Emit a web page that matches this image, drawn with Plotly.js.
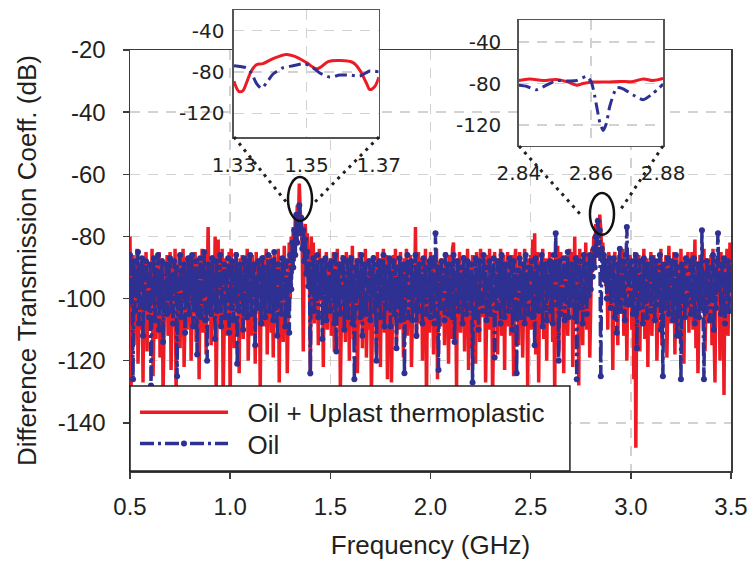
<!DOCTYPE html>
<html><head><meta charset="utf-8">
<script src="https://cdn.plot.ly/plotly-3.0.1.min.js"></script>
<style>html,body{margin:0;padding:0;background:#fff}#chart{width:751px;height:568px}</style>
</head><body><div id="chart"></div>
<script>
// ---- data ----
const freqStart = 0.5;    // GHz
const freqStep = 0.005;   // GHz

const seriesNames = ['Oil + Uplast thermoplastic', 'Oil'];

const redMain = [
 -80,-132,-94,-86,-115,-90,-104,-84,-121,-96,-88,-110,-92,-127,-87,-100,-85,-117,-93,-106,
 -89,-108,-84,-125,-97,-88,-113,-91,-102,-85,-119,-94,-87,-131,-99,-90,-106,-86,-112,-93,
 -85,-123,-96,-88,-109,-84,-131,-92,-100,-86,-116,-90,-104,-84,-122,-95,-87,-110,-91,-99,
 -86,-120,-93,-88,-105,-85,-114,-97,-87,-126,-90,-101,-84,-111,-92,-86,-118,-94,-77,-103,
 -88,-115,-92,-86,-107,-80,-129,-94,-81,-109,-89,-99,-84,-132,-93,-87,-112,-90,-102,-85,
 -135,-84,-97,-89,-116,-92,-85,-104,-91,-124,-87,-100,-86,-113,-94,-88,-107,-84,-120,-95,
 -88,-112,-86,-99,-91,-121,-85,-104,-93,-87,-130,-90,-101,-86,-109,-94,-84,-118,-92,-98,
 -86,-111,-90,-119,-85,-97,-88,-108,-84,-127,-92,-101,-87,-114,-83,-99,-91,-124,-88,-82,
 -100,-80,-92,-77,-88,-74,-82,-70,-78,-63,-72,-76,-84,-117,-80,-76,-86,-79,-95,-84,
 -125,-80,-96,-82,-108,-86,-97,-88,-115,-84,-101,-93,-87,-122,-90,-99,-85,-110,-92,-104,
 -87,-112,-94,-85,-117,-91,-103,-84,-109,-88,-129,-93,-86,-106,-90,-114,-85,-100,-92,-120,
 -86,-105,-83,-113,-91,-99,-87,-124,-93,-85,-108,-90,-116,-88,-102,-84,-119,-95,-87,-110,
 -89,-131,-92,-86,-104,-90,-118,-85,-100,-93,-122,-87,-96,-84,-111,-91,-86,-126,-94,-101,
 -88,-127,-91,-86,-107,-84,-115,-96,-89,-110,-85,-102,-92,-119,-87,-99,-84,-112,-90,-105,
 -86,-122,-93,-88,-104,-77,-113,-90,-85,-108,-94,-87,-120,-91,-100,-84,-134,-92,-88,-111,
 -85,-107,-91,-118,-86,-99,-84,-126,-92,-88,-109,-87,-103,-90,-115,-85,-100,-93,-121,-86,
 -89,-113,-84,-82,-106,-92,-129,-87,-100,-85,-111,-90,-98,-86,-117,-91,-104,-84,-123,-88,
 -116,-90,-86,-108,-93,-121,-85,-99,-88,-114,-84,-106,-91,-100,-87,-127,-92,-86,-110,-84,
 -107,-89,-132,-92,-85,-104,-90,-118,-87,-98,-84,-112,-93,-86,-123,-90,-101,-85,-109,-88,
 -112,-86,-96,-125,-89,-84,-107,-92,-115,-85,-100,-88,-119,-91,-84,-105,-93,-128,-87,-99,
 -86,-110,-81,-104,-79,-118,-90,-85,-127,-92,-88,-106,-84,-113,-93,-87,-120,-89,-97,-85,
 -108,-87,-114,-92,-131,-86,-101,-83,-117,-90,-85,-106,-94,-124,-88,-99,-86,-112,-91,-84,
 -101,-85,-122,-89,-80,-108,-92,-86,-128,-84,-97,-90,-115,-87,-104,-82,-110,-93,-86,-119,
 -98,-84,-91,-80,-88,-76,-84,-74,-80,-73,-78,-85,-82,-90,-86,-96,-88,-110,-85,-92,
 -103,-87,-123,-90,-85,-99,-92,-115,-86,-104,-89,-96,-84,-112,-91,-87,-120,-93,-100,-86,
 -88,-110,-94,-126,-85,-148,-90,-101,-86,-117,-92,-89,-107,-84,-113,-93,-87,-122,-90,-98,
 -85,-112,-91,-86,-104,-88,-120,-94,-87,-100,-84,-115,-92,-89,-108,-86,-119,-90,-83,-101,
 -108,-88,-96,-85,-118,-91,-86,-102,-93,-113,-84,-99,-90,-121,-87,-105,-92,-85,-111,-89,
 -97,-85,-110,-90,-81,-116,-88,-124,-92,-86,-104,-89,-99,-84,-117,-93,-87,-108,-91,-100,
 -86,-115,-84,-109,-127,-90,-93,-100,-87,-120,-85,-104,-92,-131,-88,-96,-84,-112,-90,-82,
 -98
];

const blueMain = [
 -86,-101,-90,-126,-88,-104,-92,-99,-85,-108,-91,-97,-87,-112,-90,-103,-88,-100,-93,-106,
 -89,-128,-94,-101,-87,-107,-91,-98,-86,-110,-92,-102,-88,-114,-95,-100,-89,-105,-91,-99,
 -87,-104,-93,-108,-88,-100,-90,-125,-94,-103,-86,-106,-91,-99,-89,-111,-93,-102,-87,-105,
 -90,-98,-86,-109,-92,-103,-88,-118,-95,-101,-87,-106,-90,-99,-85,-107,-92,-120,-89,-102,
 -91,-105,-87,-100,-93,-113,-88,-104,-90,-98,-86,-109,-92,-101,-89,-106,-94,-100,-87,-111,
 -90,-103,-88,-107,-92,-99,-86,-121,-91,-104,-89,-100,-93,-110,-87,-102,-90,-106,-88,-98,
 -86,-105,-92,-101,-89,-115,-94,-103,-88,-99,-91,-108,-87,-102,-90,-106,-93,-100,-86,-104,
 -91,-98,-88,-107,-85,-103,-92,-112,-89,-100,-93,-105,-87,-99,-90,-109,-88,-102,-94,-111,
 -86,-97,-82,-90,-78,-86,-73,-82,-76,-70,-79,-74,-84,-78,-88,-81,-92,-85,-96,-89,
 -124,-92,-98,-87,-104,-90,-100,-86,-106,-93,-99,-88,-113,-91,-102,-87,-107,-94,-100,-89,
 -104,-88,-99,-92,-108,-86,-117,-93,-101,-89,-105,-90,-98,-87,-110,-94,-102,-88,-106,-91,
 -100,-87,-108,-93,-126,-90,-103,-88,-99,-92,-106,-86,-112,-91,-101,-89,-105,-94,-100,-88,
 -107,-91,-99,-87,-104,-93,-120,-89,-102,-88,-106,-92,-100,-86,-109,-90,-103,-95,-99,-87,
 -109,-92,-101,-88,-105,-90,-116,-94,-100,-87,-107,-91,-103,-89,-124,-93,-99,-86,-106,-90,
 -102,-88,-107,-92,-99,-86,-112,-91,-104,-89,-100,-93,-108,-87,-101,-90,-105,-94,-99,-88,
 -106,-87,-101,-93,-108,-79,-100,-90,-123,-92,-103,-88,-99,-91,-107,-86,-102,-89,-105,-94,
 -100,-89,-106,-86,-114,-92,-101,-88,-104,-90,-99,-93,-108,-87,-102,-91,-105,-88,-100,-92,
 -103,-89,-127,-93,-100,-87,-106,-91,-110,-88,-101,-92,-104,-86,-99,-90,-107,-94,-102,-88,
 -105,-91,-100,-87,-119,-93,-103,-88,-99,-90,-108,-86,-102,-92,-106,-89,-100,-94,-104,-87,
 -101,-90,-110,-88,-104,-93,-124,-91,-99,-87,-106,-92,-102,-89,-108,-86,-100,-93,-105,-90,
 -99,-88,-106,-92,-115,-87,-101,-90,-104,-94,-100,-86,-109,-91,-103,-89,-107,-93,-99,-88,
 -104,-90,-108,-86,-99,-79,-102,-91,-120,-88,-105,-93,-100,-87,-107,-90,-101,-85,-106,-92,
 -102,-89,-99,-93,-106,-87,-126,-90,-103,-88,-100,-92,-108,-86,-101,-91,-105,-89,-99,-86,
 -97,-88,-93,-84,-90,-80,-86,-75,-82,-78,-125,-84,-90,-86,-94,-88,-100,-91,-97,-87,
 -103,-90,-99,-87,-106,-93,-111,-89,-101,-84,-104,-91,-99,-88,-107,-86,-77,-92,-102,-89,
 -100,-88,-105,-92,-99,-86,-116,-91,-103,-88,-100,-93,-108,-87,-101,-90,-106,-89,-99,-92,
 -104,-87,-100,-91,-107,-88,-102,-93,-99,-86,-110,-90,-125,-89,-103,-92,-100,-87,-105,-91,
 -99,-88,-107,-92,-101,-86,-112,-90,-104,-93,-126,-89,-100,-91,-106,-87,-102,-94,-99,-88,
 -105,-90,-101,-87,-108,-93,-100,-89,-106,-91,-103,-78,-99,-126,-92,-104,-88,-101,-90,-107,
 -93,-100,-86,-110,-91,-103,-88,-79,-97,-92,-105,-89,-101,-87,-108,-93,-100,-88,-104,-90,
 -96
];

// zoomed insets
const inset1RedFreq = [1.3300,1.3314,1.3325,1.3334,1.3348,1.3362,1.3380,1.3408,1.3445,1.3468,1.3500,1.3528,1.3541,1.3560,1.3592,1.3629,1.3647,1.3666,1.3675,1.3689,1.3700];
const inset1Red     = [-89,-99,-98,-91,-79,-73,-72,-67,-63,-65,-71,-77,-75,-70,-69,-71,-78,-91,-97,-94,-85];
const inset1BlueFreq = [1.3300,1.3334,1.3348,1.3362,1.3376,1.3389,1.3408,1.3435,1.3463,1.3495,1.3518,1.3537,1.3565,1.3592,1.3620,1.3647,1.3675,1.3700];
const inset1Blue     = [-74,-76,-81,-91,-96,-91,-82,-76,-74,-72,-76,-81,-85,-83,-83,-84,-79,-80];

const inset2RedFreq = [2.8400,2.8430,2.8467,2.8504,2.8532,2.8560,2.8578,2.8606,2.8643,2.8680,2.8717,2.8745,2.8772,2.8800];
const inset2Red     = [-77,-75.5,-77,-76,-78,-81.5,-80,-78.5,-78.5,-78,-78,-75.5,-77,-75];
const inset2BlueFreq = [2.8400,2.8421,2.8449,2.8477,2.8504,2.8532,2.8560,2.8588,2.8601,2.8611,2.8625,2.8634,2.8643,2.8652,2.8671,2.8689,2.8717,2.8745,2.8772,2.8800];
const inset2Blue     = [-81.5,-82.5,-86,-81.5,-77,-77.5,-77,-73,-78.5,-93,-118,-125,-118,-102,-84,-85,-91,-95.5,-89.5,-80.5];

const xTicks = [0.5,1.0,1.5,2.0,2.5,3.0,3.5];
const yTicks = [-20,-40,-60,-80,-100,-120,-140];
const inset1XTicks = [1.33,1.35,1.37];
const inset2XTicks = [2.84,2.86,2.88];
const insetYTicks = [-40,-80,-120];

// ---- styling ----
const RED = '#ed1c24', BLUE = '#2e3192', INK = '#231f20', GRID = '#d2d2d2', AXIS = '#3c3c3c';
const FONT = 'Liberation Sans, Arial, sans-serif';
const INSETFONT = 'DejaVu Sans, sans-serif';
const NB = '\u00a0\u00a0';

const freq = redMain.map((_, i) => +(freqStart + i * freqStep).toFixed(4));
const hyphen = v => String(v); // ASCII hyphen-minus as in the reference

const traces = [
  {x: freq, y: redMain, name: NB + seriesNames[0], type: 'scatter', mode: 'lines',
   line: {color: RED, width: 3.5}, xaxis: 'x', yaxis: 'y', legend: 'legend'},
  {x: freq, y: blueMain, name: NB + seriesNames[1], type: 'scatter', mode: 'lines+markers',
   line: {color: BLUE, width: 3.5, dash: '14px,4px,3px,4px'}, marker: {color: BLUE, size: 6},
   xaxis: 'x', yaxis: 'y', legend: 'legend2'},
  {x: inset1RedFreq, y: inset1Red, type: 'scatter', mode: 'lines', showlegend: false,
   line: {color: RED, width: 3, shape: 'spline', smoothing: 1}, xaxis: 'x2', yaxis: 'y2'},
  {x: inset1BlueFreq, y: inset1Blue, type: 'scatter', mode: 'lines', showlegend: false,
   line: {color: BLUE, width: 3, dash: '12px,5px,3px,5px', shape: 'spline', smoothing: 0.6}, xaxis: 'x2', yaxis: 'y2'},
  {x: inset2RedFreq, y: inset2Red, type: 'scatter', mode: 'lines', showlegend: false,
   line: {color: RED, width: 3, shape: 'spline', smoothing: 1}, xaxis: 'x3', yaxis: 'y3'},
  {x: inset2BlueFreq, y: inset2Blue, type: 'scatter', mode: 'lines', showlegend: false,
   line: {color: BLUE, width: 3, dash: '12px,5px,3px,5px', shape: 'spline', smoothing: 0.5}, xaxis: 'x3', yaxis: 'y3'}
];

const mainAxis = {
  ticks: 'outside', ticklen: 6, tickwidth: 1.5, tickcolor: AXIS,
  showline: true, mirror: true, linecolor: AXIS, linewidth: 1.5,
  showgrid: true, gridcolor: GRID, gridwidth: 1.5, griddash: '10px,8px',
  zeroline: false, tickfont: {family: FONT, size: 24, color: INK}
};
const insetAxis = {
  ticks: '', showline: true, mirror: true, linecolor: '#555', linewidth: 1.5,
  showgrid: true, gridcolor: GRID, gridwidth: 1.5, griddash: '10px,8px',
  zeroline: false, tickfont: {family: INSETFONT, size: 20, color: INK}, fixedrange: true
};

const dotLine = {color: '#222', width: 3, dash: '3px,5px'};
const legendBase = {xanchor: 'left', yanchor: 'top', bgcolor: 'rgba(0,0,0,0)', borderwidth: 0,
                    itemwidth: 88, font: {family: FONT, size: 26, color: INK}};

const layout = {
  width: 751, height: 568,
  margin: {l: 130, r: 20, t: 10, b: 97},
  paper_bgcolor: '#fff', plot_bgcolor: 'rgba(0,0,0,0)',
  font: {family: FONT, color: INK, size: 24},
  showlegend: true,
  legend: Object.assign({}, legendBase, {x: 0.0083, y: 0.178}),
  legend2: Object.assign({}, legendBase, {x: 0.0083, y: 0.1105}),
  xaxis: Object.assign({}, mainAxis, {
    domain: [0, 1], anchor: 'y', range: [0.5, 3.5], tickvals: xTicks, tickformat: '.1f',
    ticklabelstandoff: 8,
    title: {text: 'Frequency (GHz)', font: {family: FONT, size: 26, color: INK}, standoff: 16}
  }),
  yaxis: Object.assign({}, mainAxis, {
    domain: [0, 0.9132], anchor: 'x', range: [-155.5, -20], tickvals: yTicks, ticktext: yTicks.map(hyphen),
    ticklabelstandoff: 12,
    title: {text: 'Difference Transmission Coeff. (dB)', font: {family: FONT, size: 26, color: INK}, standoff: 13}
  }),
  xaxis2: Object.assign({}, insetAxis, {
    domain: [0.173, 0.414], anchor: 'y2', range: [1.33, 1.37], tickvals: inset1XTicks, tickformat: '.2f',
    ticklabelstandoff: 9
  }),
  yaxis2: Object.assign({}, insetAxis, {
    domain: [0.7245, 1], anchor: 'x2', range: [-143, -20], tickvals: insetYTicks, ticktext: insetYTicks.map(hyphen),
    ticklabelstandoff: 4
  }),
  xaxis3: Object.assign({}, insetAxis, {
    domain: [0.647, 0.887], anchor: 'y3', range: [2.84, 2.88], tickvals: inset2XTicks, tickformat: '.2f',
    ticklabelstandoff: 9
  }),
  yaxis3: Object.assign({}, insetAxis, {
    domain: [0.705, 0.978], anchor: 'x3', range: [-140, -19], tickvals: insetYTicks, ticktext: insetYTicks.map(hyphen),
    ticklabelstandoff: 12
  }),
  shapes: [
    // opaque backgrounds of the insets
    {type: 'rect', xref: 'x2', yref: 'y2', x0: 1.33, x1: 1.37, y0: -143, y1: -20,
     fillcolor: '#fff', line: {width: 0}, layer: 'below'},
    {type: 'rect', xref: 'x3', yref: 'y3', x0: 2.84, x1: 2.88, y0: -140, y1: -19,
     fillcolor: '#fff', line: {width: 0}, layer: 'below'},
    // ellipses marking the zoomed regions
    {type: 'circle', xref: 'x', yref: 'y', x0: 1.2887, x1: 1.4085, y0: -75.0, y1: -60.9,
     line: {color: '#111', width: 2.5}, layer: 'above'},
    {type: 'circle', xref: 'x', yref: 'y', x0: 2.796, x1: 2.916, y0: -79.5, y1: -66.0,
     line: {color: '#111', width: 2.5}, layer: 'above'},
    // dotted connectors
    {type: 'line', xref: 'x', yref: 'y', x0: 1.0191, y0: -47.99, x1: 1.2837, y1: -69.23, line: dotLine, layer: 'above'},
    {type: 'line', xref: 'x', yref: 'y', x0: 1.7429, y0: -47.99, x1: 1.4185, y1: -69.23, line: dotLine, layer: 'above'},
    {type: 'line', xref: 'x', yref: 'y', x0: 2.4418, y0: -50.89, x1: 2.7463, y1: -72.77, line: dotLine, layer: 'above'},
    {type: 'line', xref: 'x', yref: 'y', x0: 3.1606, y0: -50.89, x1: 2.9410, y1: -72.12, line: dotLine, layer: 'above'},
    // legend box
    {type: 'rect', xref: 'paper', yref: 'paper', x0: 0, x1: 0.732, y0: 0, y1: 0.1844,
     fillcolor: '#fff', line: {color: INK, width: 1.5}, layer: 'above'}
  ]
};

Plotly.newPlot('chart', traces, layout, {staticPlot: true, displayModeBar: false});
</script>
</body></html>
